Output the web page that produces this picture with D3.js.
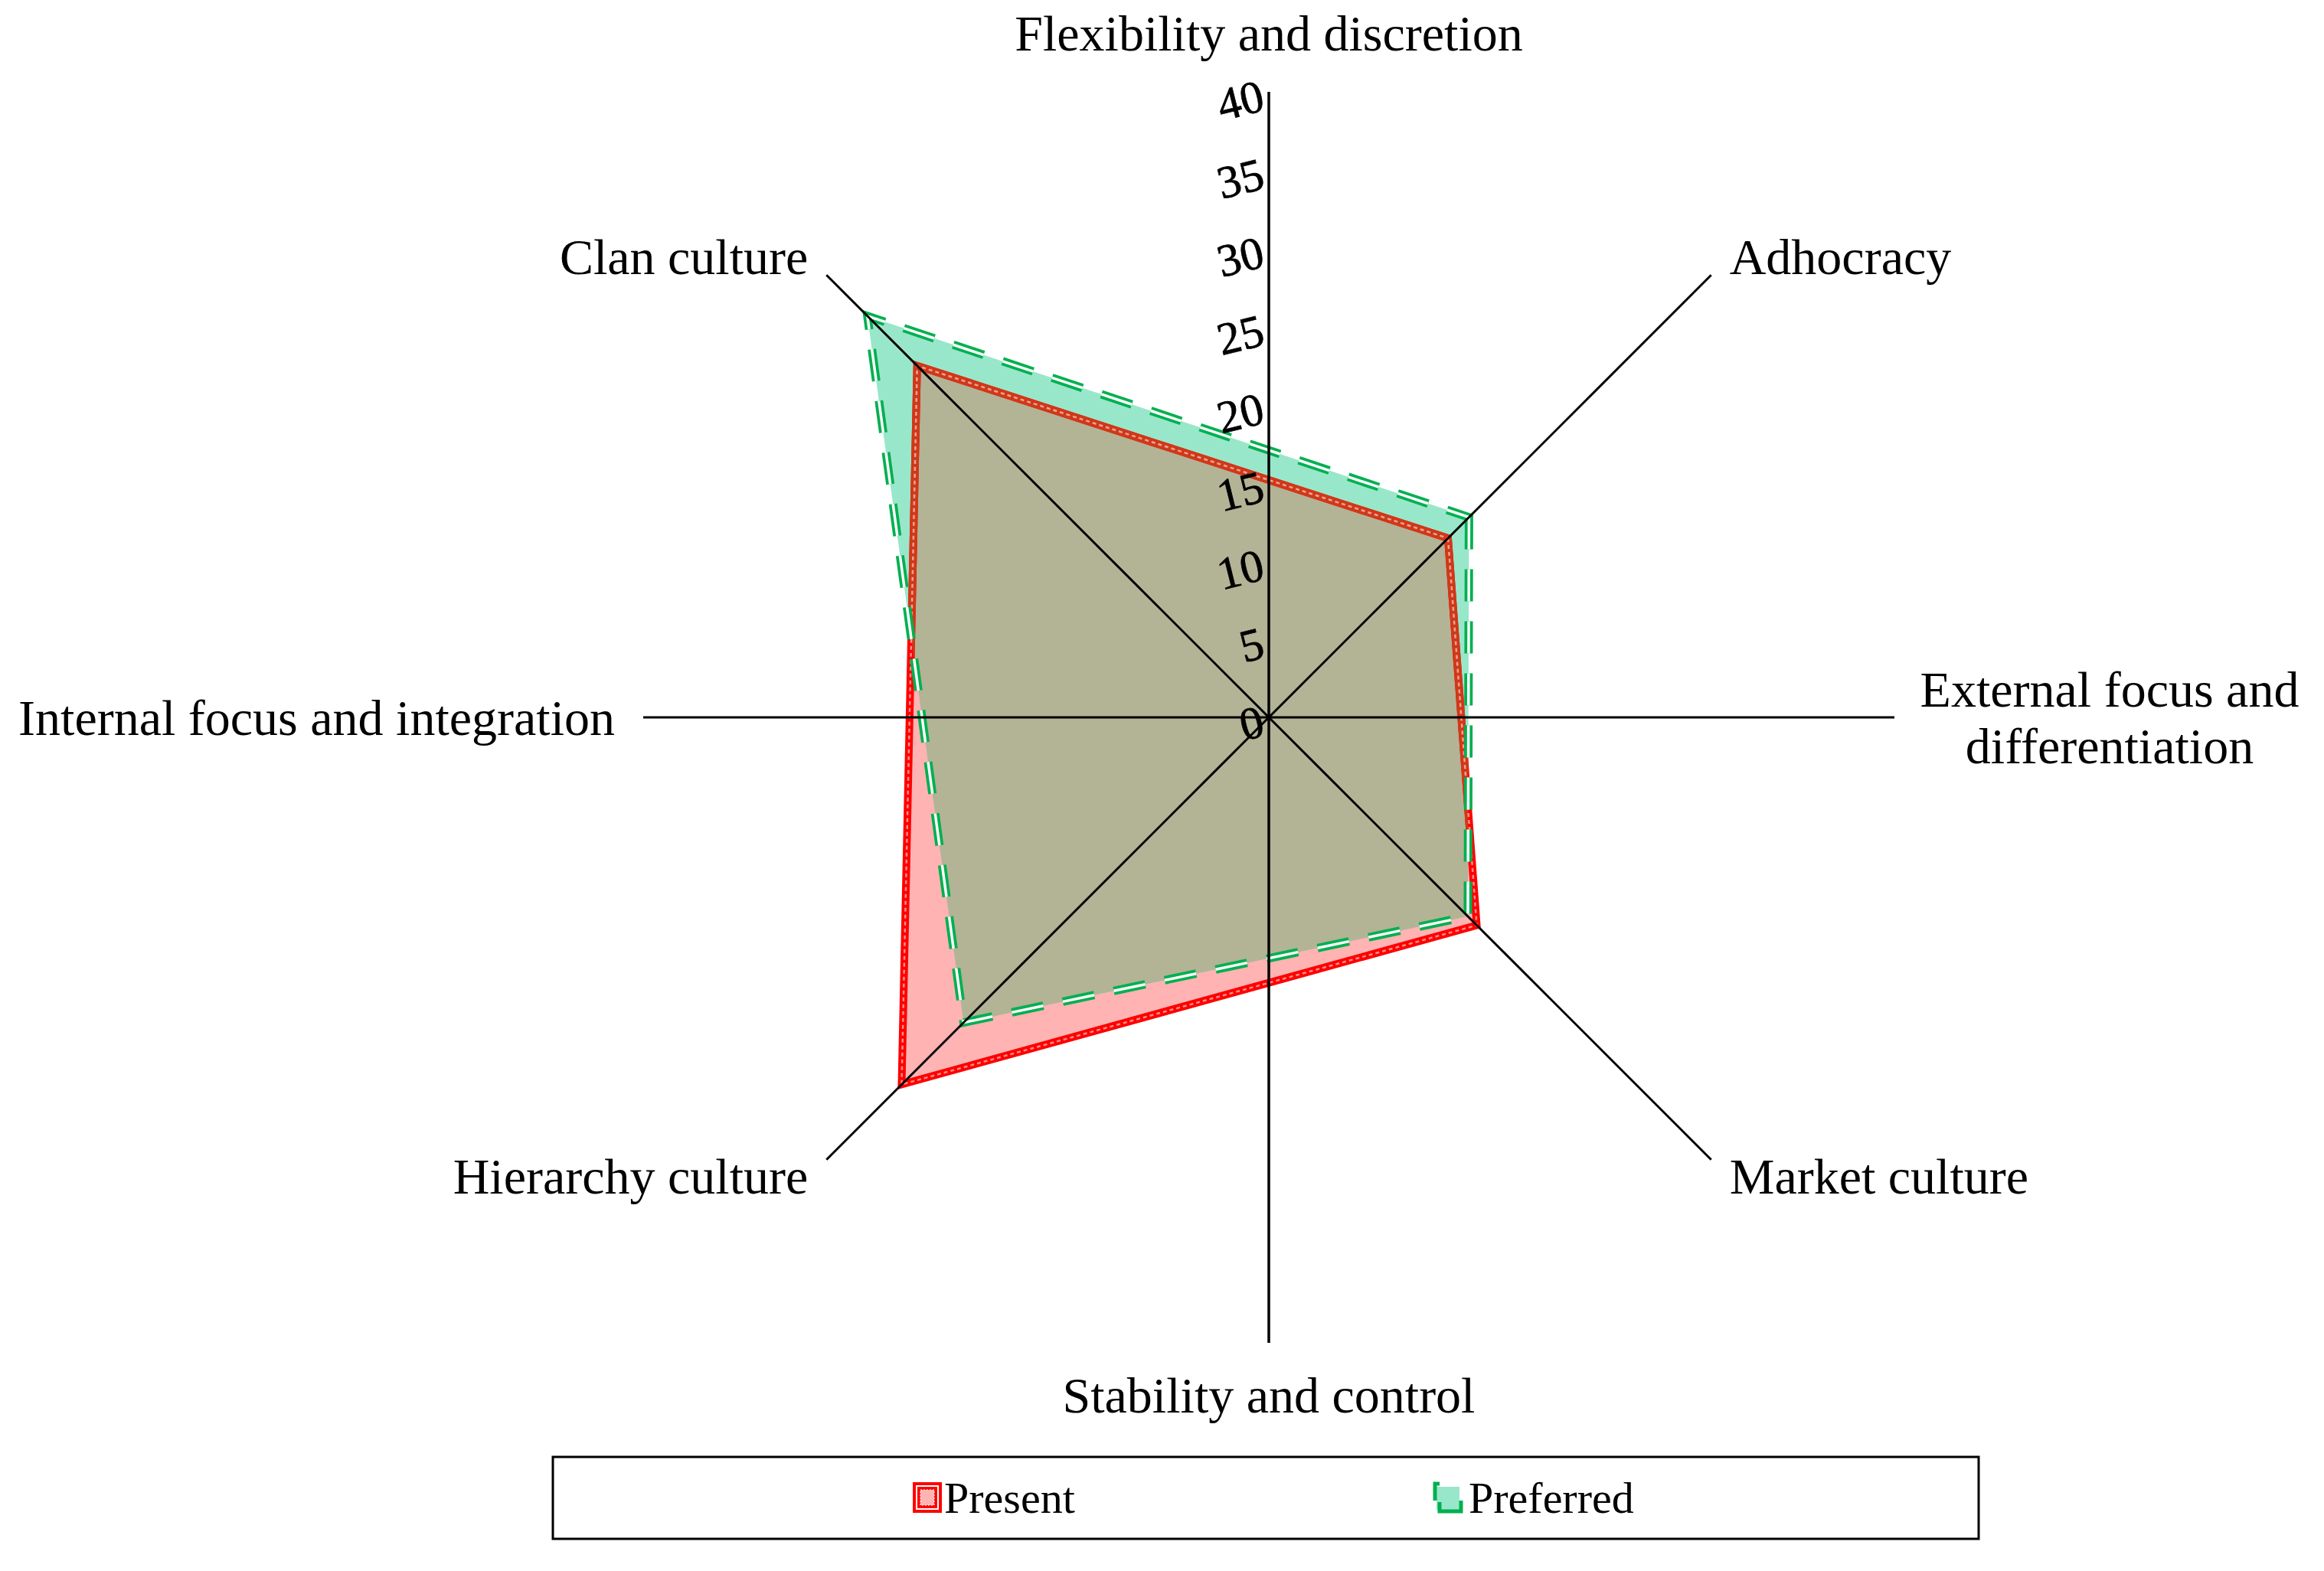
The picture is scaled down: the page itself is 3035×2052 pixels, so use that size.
<!DOCTYPE html>
<html>
<head>
<meta charset="utf-8">
<script src="https://cdn.jsdelivr.net/npm/d3@7"></script>
<style>
  html, body { margin: 0; padding: 0; background: #ffffff; }
  svg { display: block; }
  text { font-family: "Liberation Serif", "Times New Roman", serif; fill: #000; }
</style>
</head>
<body>
<svg id="chart" width="3035" height="2052"></svg>
<script>
// ---------- data ----------
const categories = [
  "Flexibility and discretion",
  "Adhocracy",
  "External focus and differentiation",
  "Market culture",
  "Stability and control",
  "Hierarchy culture",
  "Internal focus and integration",
  "Clan culture"
];
const presentValues   = [null, 16.2, null, 18.8, null, 33.2, null, 31.8];
const preferredValues = [null, 18.1, null, 18.0, null, 27.6, null, 36.3];
const tickValues = [0, 5, 10, 15, 20, 25, 30, 35, 40];
const seriesNames = ["Present", "Preferred"];

// ---------- layout ----------
const cx = 1657, cy = 937;
const R = 817;

const svg = d3.select("#chart");
const g = svg.append("g").attr("transform", `translate(${cx},${cy})`);

const r = d3.scaleLinear().domain([0, 40]).range([0, R]);
const step = 2 * Math.PI / categories.length;
const ang = i => i * step;

function pts(values) {
  return values.map((v, i) => ({v, i})).filter(d => d.v !== null);
}
const radial = d3.lineRadial()
  .angle(d => ang(d.i))
  .radius(d => r(d.v))
  .curve(d3.curveLinearClosed);

const presentPath = radial(pts(presentValues));
const preferredPath = radial(pts(preferredValues));

const defs = svg.append("defs");
defs.append("clipPath").attr("id", "clipPresent").append("path").attr("d", presentPath);
defs.append("clipPath").attr("id", "clipPreferred").append("path").attr("d", preferredPath);

// fills
g.append("path").attr("d", presentPath).attr("fill", "#FFB3B3");
g.append("path").attr("d", preferredPath).attr("fill", "#99E7CA");
g.append("path").attr("d", preferredPath).attr("fill", "#B3B396")
  .attr("clip-path", "url(#clipPresent)");

// present outline (double red line)
g.append("path").attr("d", presentPath).attr("fill", "none")
  .attr("stroke", "#FF0000").attr("stroke-width", 10).attr("stroke-linejoin", "miter");
g.append("path").attr("d", presentPath).attr("fill", "none")
  .attr("stroke", "#D03818").attr("stroke-width", 10).attr("stroke-linejoin", "miter")
  .attr("clip-path", "url(#clipPreferred)");
g.append("path").attr("d", presentPath).attr("fill", "none")
  .attr("stroke", "#ffffff").attr("stroke-opacity", 0.55).attr("stroke-width", 2.5)
  .attr("stroke-dasharray", "5,4");

// preferred outline (dashed double green line)
g.append("path").attr("d", preferredPath).attr("fill", "none")
  .attr("stroke", "#00B050").attr("stroke-width", 11).attr("stroke-dasharray", "42,26")
  .attr("stroke-linejoin", "miter");
g.append("path").attr("d", preferredPath).attr("fill", "none")
  .attr("stroke", "#ffffff").attr("stroke-width", 3.5).attr("stroke-dasharray", "42,26");

// axes
categories.forEach((c, i) => {
  const a = ang(i);
  g.append("line")
    .attr("x1", 0).attr("y1", 0)
    .attr("x2", r(40) * Math.sin(a)).attr("y2", -r(40) * Math.cos(a))
    .attr("stroke", "#000").attr("stroke-width", i === 0 || i === 4 ? 3.5 : 3);
});

// tick labels along the top axis
g.selectAll("text.tick").data(tickValues).join("text")
  .attr("class", "tick")
  .attr("text-anchor", "end")
  .attr("dominant-baseline", "central")
  .attr("font-size", 60)
  .attr("stroke", "#000").attr("stroke-width", 0.8)
  .attr("transform", d => `translate(${-8},${-r(d) + 4}) rotate(-14)`)
  .text(d => d);

// category labels
const off = 24;
function labelPos(i) {
  const a = ang(i);
  const x = r(40) * Math.sin(a), y = -r(40) * Math.cos(a);
  switch (i) {
    case 0: return {x: 0, y: y - 77, anchor: "middle"};
    case 1: return {x: x + off, y: y - off, anchor: "start"};
    case 2: return {x: 1098, y: 0, anchor: "middle"};
    case 3: return {x: x + off, y: y + 22, anchor: "start"};
    case 4: return {x: 0, y: y + 68, anchor: "middle"};
    case 5: return {x: x - off, y: y + 22, anchor: "end"};
    case 6: return {x: x - 37, y: 0, anchor: "end"};
    case 7: return {x: x - off, y: y - off, anchor: "end"};
  }
}
categories.forEach((c, i) => {
  const p = labelPos(i);
  const t = g.append("text")
    .attr("x", p.x).attr("y", p.y)
    .attr("text-anchor", p.anchor)
    .attr("dominant-baseline", "central")
    .attr("font-size", 66);
  if (i === 2) {
    const lines = ["External focus and", "differentiation"];
    lines.forEach((l, k) => {
      t.append("tspan").attr("x", p.x).attr("y", p.y + (k - 0.5) * 74).text(l);
    });
  } else {
    t.text(c);
  }
});

// legend
const legend = svg.append("g");
legend.append("rect")
  .attr("x", 722).attr("y", 1903).attr("width", 1862).attr("height", 107)
  .attr("fill", "#fff").attr("stroke", "#000").attr("stroke-width", 3);
const ly = 1956;
// Present swatch
const s1 = legend.append("g").attr("transform", `translate(1192,${ly - 20})`);
s1.append("rect").attr("x", 0).attr("y", 0).attr("width", 38).attr("height", 40).attr("fill", "#FF0000");
s1.append("rect").attr("x", 5).attr("y", 5).attr("width", 28).attr("height", 30)
  .attr("fill", "none").attr("stroke", "#fff").attr("stroke-width", 2);
s1.append("rect").attr("x", 10).attr("y", 10).attr("width", 18).attr("height", 20)
  .attr("fill", "#FFB3B3").attr("stroke", "#fff").attr("stroke-width", 1).attr("stroke-dasharray", "2,2");
legend.append("text").attr("x", 1233).attr("y", ly).attr("dominant-baseline", "central")
  .attr("font-size", 58).text(seriesNames[0]);
// Preferred swatch
const s2 = legend.append("g").attr("transform", `translate(1872,${ly - 20})`);
s2.append("rect").attr("x", 4).attr("y", 6).attr("width", 30).attr("height", 30).attr("fill", "#99E7CA");
s2.append("path").attr("d", "M2,24 V2 H8").attr("fill", "none").attr("stroke", "#00B050").attr("stroke-width", 5);
s2.append("path").attr("d", "M8,26 V38 H36 V24").attr("fill", "none").attr("stroke", "#00B050").attr("stroke-width", 5);
legend.append("text").attr("x", 1918).attr("y", ly).attr("dominant-baseline", "central")
  .attr("font-size", 58).text(seriesNames[1]);
</script>
</body>
</html>
